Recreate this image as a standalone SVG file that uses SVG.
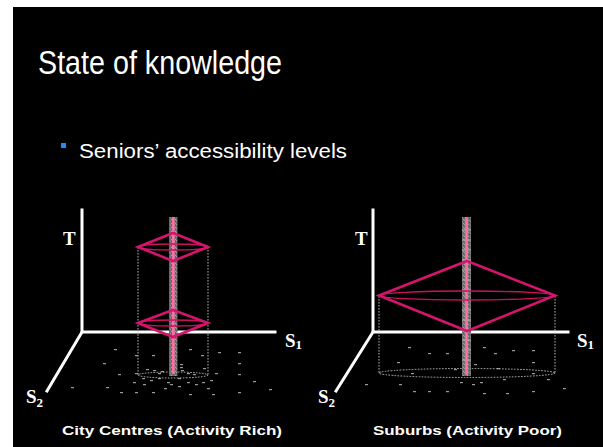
<svg xmlns="http://www.w3.org/2000/svg" xmlns:xlink="http://www.w3.org/1999/xlink" width="603" height="447" viewBox="0 0 603 447">
  <style>
    .title { font-family: "Liberation Sans", Arial, sans-serif; fill: #ffffff; }
    .cap { font-family: "Liberation Sans", Arial, sans-serif; font-weight: bold; fill: #ffffff; font-size: 13px; }
    .ax { stroke: #ffffff; stroke-width: 3; fill: none; stroke-linecap: square; }
    .axl { font-family: "Liberation Serif", "Times New Roman", serif; font-weight: bold; fill: #ffffff; font-size: 19px; }
    .sub { font-size: 13px; }
    .cyl { stroke: #c8c8c8; stroke-width: 0.9; stroke-dasharray: 1.6 1.4; fill: none; }
    .pole { fill: url(#grain); }
    .tick { stroke: #b4b4b4; stroke-width: 1; }
    .core { stroke: #ff6fa6; stroke-width: 2.6; }
    .dia { stroke: #d4146d; stroke-width: 2.6; fill: none; stroke-linejoin: miter; }
    .ring { stroke: #c8125f; stroke-width: 1.3; fill: none; }
    .dot { fill: #9a9a9a; }
  </style>
  <defs>
    <pattern id="grain" width="4" height="4" patternUnits="userSpaceOnUse">
      <rect width="4" height="4" fill="#707070"/>
      <rect x="0" y="0" width="1" height="1" fill="#9a9a9a"/>
      <rect x="2" y="1" width="1" height="1" fill="#8c8c8c"/>
      <rect x="1" y="2" width="1" height="1" fill="#505050"/>
      <rect x="3" y="3" width="1" height="1" fill="#9e9e9e"/>
      <rect x="3" y="1" width="1" height="1" fill="#585858"/>
    </pattern>
    <rect id="d" class="dot" width="3" height="1.2"/>
  </defs>

  <!-- page margin and slide background -->
  <rect width="603" height="447" fill="#ffffff"/>
  <rect x="13" y="7" width="590" height="440" fill="#000000"/>

  <g id="title">
    <text class="title" x="38" y="74" font-size="34" textLength="244" lengthAdjust="spacingAndGlyphs">State of knowledge</text>
  </g>

  <g id="bullet">
    <rect x="61" y="143" width="5" height="5" fill="#1e8cff"/>
    <text class="title" x="79" y="158" font-size="20" textLength="268" lengthAdjust="spacingAndGlyphs">Seniors’ accessibility levels</text>
  </g>

  <!-- city centres: many short activity windows -->
  <g id="city-centres">
    <g id="city-dots">
      <use xlink:href="#d" x="114" y="349"/><use xlink:href="#d" x="135" y="355"/><use xlink:href="#d" x="152" y="355"/>
      <use xlink:href="#d" x="189" y="349"/><use xlink:href="#d" x="201" y="355"/><use xlink:href="#d" x="218" y="352"/>
      <use xlink:href="#d" x="238" y="352"/><use xlink:href="#d" x="103" y="363"/><use xlink:href="#d" x="118" y="374"/>
      <use xlink:href="#d" x="238" y="363"/><use xlink:href="#d" x="238" y="374"/><use xlink:href="#d" x="253" y="381"/>
      <use xlink:href="#d" x="269" y="389"/><use xlink:href="#d" x="71" y="387"/><use xlink:href="#d" x="106" y="387"/>
      <use xlink:href="#d" x="120" y="392"/><use xlink:href="#d" x="135" y="392"/><use xlink:href="#d" x="152" y="392"/>
      <use xlink:href="#d" x="164" y="388"/><use xlink:href="#d" x="178" y="386"/><use xlink:href="#d" x="189" y="394"/>
      <use xlink:href="#d" x="207" y="388"/><use xlink:href="#d" x="212" y="394"/><use xlink:href="#d" x="238" y="392"/>
      <use xlink:href="#d" x="215" y="373"/><use xlink:href="#d" x="133" y="382"/><use xlink:href="#d" x="143" y="384"/>
      <use xlink:href="#d" x="150" y="380"/><use xlink:href="#d" x="158" y="378"/><use xlink:href="#d" x="167" y="382"/>
      <use xlink:href="#d" x="187" y="382"/><use xlink:href="#d" x="195" y="384"/><use xlink:href="#d" x="202" y="382"/>
      <use xlink:href="#d" x="210" y="380"/><use xlink:href="#d" x="180" y="364"/><use xlink:href="#d" x="180" y="367"/>
      <use xlink:href="#d" x="181" y="370"/><use xlink:href="#d" x="203" y="368"/><use xlink:href="#d" x="146" y="369"/>
      <use xlink:href="#d" x="153" y="370"/><use xlink:href="#d" x="161" y="371"/><use xlink:href="#d" x="135" y="373"/>
      <use xlink:href="#d" x="158" y="373"/><use xlink:href="#d" x="187" y="373"/><use xlink:href="#d" x="193" y="374"/>
      <use xlink:href="#d" x="178" y="378"/><use xlink:href="#d" x="170" y="384"/><use xlink:href="#d" x="142" y="378"/>
    </g>
    <g id="city-axes">
      <polyline class="ax" points="82,210 82,332 275,332"/>
      <line class="ax" x1="82" y1="332" x2="47" y2="391"/>
      <text class="axl" x="63" y="245">T</text>
      <text class="axl" x="285" y="347">S<tspan class="sub" dy="2">1</tspan></text>
      <text class="axl" x="26" y="403">S<tspan class="sub" dy="4">2</tspan></text>
    </g>
    <g id="city-cylinder">
      <line class="cyl" x1="138" y1="247" x2="138" y2="375"/>
      <line class="cyl" x1="208" y1="247" x2="208" y2="375"/>
      <ellipse class="cyl" cx="173" cy="375" rx="35" ry="3"/>
    </g>
    <g id="city-pole">
      <rect class="pole" x="169" y="217" width="8.5" height="159"/>
      <line class="core" x1="173.3" y1="217" x2="173.3" y2="374"/>
    </g>
    <g id="city-prism-upper">
      <ellipse class="ring" cx="173" cy="247" rx="35" ry="3"/>
      <polygon class="dia" points="173,233 208,247 173,261 138,247"/>
    </g>
    <g id="city-prism-lower">
      <ellipse class="ring" cx="173" cy="323" rx="35" ry="3"/>
      <polygon class="dia" points="173,310 208,323 173,337 138,323"/>
    </g>
    <text class="cap" x="62" y="435" textLength="220" lengthAdjust="spacingAndGlyphs">City Centres (Activity Rich)</text>
  </g>

  <!-- suburbs: one long activity window -->
  <g id="suburbs">
    <g id="suburb-dots">
      <use xlink:href="#d" x="408" y="347"/><use xlink:href="#d" x="428" y="353"/><use xlink:href="#d" x="446" y="353"/>
      <use xlink:href="#d" x="483" y="347"/><use xlink:href="#d" x="494" y="353"/><use xlink:href="#d" x="512" y="350"/>
      <use xlink:href="#d" x="532" y="350"/><use xlink:href="#d" x="397" y="362"/><use xlink:href="#d" x="532" y="362"/>
      <use xlink:href="#d" x="474" y="364"/><use xlink:href="#d" x="497" y="368"/><use xlink:href="#d" x="454" y="369"/>
      <use xlink:href="#d" x="411" y="373"/><use xlink:href="#d" x="532" y="373"/><use xlink:href="#d" x="547" y="379"/>
      <use xlink:href="#d" x="365" y="384"/><use xlink:href="#d" x="399" y="384"/><use xlink:href="#d" x="460" y="382"/>
      <use xlink:href="#d" x="480" y="382"/><use xlink:href="#d" x="472" y="384"/><use xlink:href="#d" x="503" y="379"/>
      <use xlink:href="#d" x="563" y="388"/><use xlink:href="#d" x="413" y="391"/><use xlink:href="#d" x="428" y="391"/>
      <use xlink:href="#d" x="446" y="391"/><use xlink:href="#d" x="483" y="393"/><use xlink:href="#d" x="506" y="393"/>
      <use xlink:href="#d" x="532" y="391"/>
    </g>
    <g id="suburb-axes">
      <polyline class="ax" points="373,210 373,332 568,332"/>
      <line class="ax" x1="373" y1="332" x2="336" y2="391"/>
      <text class="axl" x="355" y="245">T</text>
      <text class="axl" x="577" y="347">S<tspan class="sub" dy="2">1</tspan></text>
      <text class="axl" x="318" y="403">S<tspan class="sub" dy="4">2</tspan></text>
    </g>
    <g id="suburb-cylinder">
      <line class="cyl" x1="379" y1="296" x2="379" y2="373"/>
      <line class="cyl" x1="555" y1="296" x2="555" y2="373"/>
      <ellipse class="cyl" cx="467" cy="373" rx="88" ry="4.5"/>
    </g>
    <g id="suburb-pole">
      <rect class="pole" x="462" y="217" width="9" height="159"/>
      <g class="tick">
        <line x1="462" y1="230" x2="471" y2="230"/><line x1="462" y1="240" x2="471" y2="240"/>
        <line x1="462" y1="250" x2="471" y2="250"/><line x1="462" y1="260" x2="471" y2="260"/>
        <line x1="462" y1="270" x2="471" y2="270"/><line x1="462" y1="280" x2="471" y2="280"/>
        <line x1="462" y1="290" x2="471" y2="290"/><line x1="462" y1="300" x2="471" y2="300"/>
        <line x1="462" y1="310" x2="471" y2="310"/><line x1="462" y1="320" x2="471" y2="320"/>
        <line x1="462" y1="340" x2="471" y2="340"/><line x1="462" y1="350" x2="471" y2="350"/>
        <line x1="462" y1="360" x2="471" y2="360"/>
      </g>
      <line class="core" x1="466.5" y1="217" x2="466.5" y2="375"/>
    </g>
    <g id="suburb-prism">
      <ellipse class="ring" cx="467" cy="295.5" rx="88" ry="4.5"/>
      <polygon class="dia" points="467,261 555,295.5 467,331 379,295.5"/>
    </g>
    <text class="cap" x="373" y="435" textLength="189" lengthAdjust="spacingAndGlyphs">Suburbs (Activity Poor)</text>
  </g>
</svg>
